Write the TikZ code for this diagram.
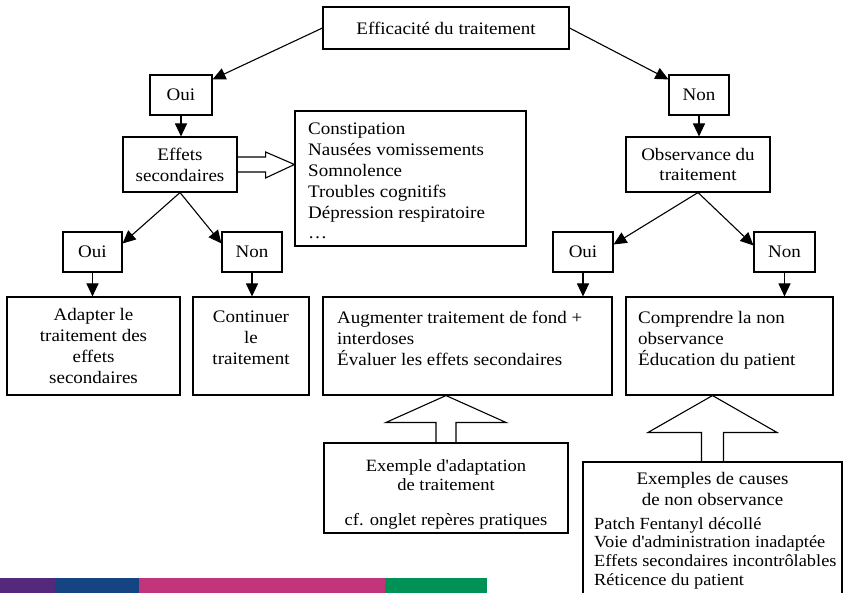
\documentclass[tikz,border=0pt]{standalone}
\usepackage{fontspec}
\setmainfont{Liberation Serif}[FakeStretch=1.08]
\usepackage{tikz}
\usetikzlibrary{arrows.meta}
\usetikzlibrary{calc}
\definecolor{barpurple}{HTML}{54287B}
\definecolor{barblue}{HTML}{154483}
\definecolor{barpink}{HTML}{C2357A}
\definecolor{bargreen}{HTML}{009157}
\tikzstyle{box}=[draw,line width=1.1pt,inner sep=0pt,align=center]
\tikzstyle{txt}=[inner sep=0pt,align=left,anchor=north west]
\tikzstyle{ctxt}=[inner sep=0pt,align=center,anchor=north]
\tikzstyle{edge} = [draw,line width=1.1pt,-{Triangle[length=13pt,width=12pt]}]
\tikzstyle{bigarrow} = [draw,line width=1.1pt,line join=miter]

\begin{document}
\begin{tikzpicture}[x=1pt,y=-1pt,font=\fontsize{17.6}{20.8}\selectfont]

    \clip (0,0) rectangle (845,593);
    \useasboundingbox (0,0) rectangle (845,593);

    % First we draw the boxes
    \foreach \pos/\name/\w/\h/\label in {{(446,28)/eff/246/42/Efficacité du traitement},
        {(181,95)/oui1/62/40/Oui}, {(699,95)/non1/60/40/Non},
        {(180,164.5)/effets/114/55/{Effets\\secondaires}}, {(698,164.5)/obs/144/55/{Observance du\\traitement}},
        {(410.5,178.5)/list/231/135/{}},
        {(92.5,252)/oui2/59/40/Oui}, {(252,252)/non2/60/40/Non}, {(583,252)/oui3/60/40/Oui}, {(784.5,252)/non3/61/40/Non},
        {(93.5,346)/adapt/173/98/{Adapter le\\traitement des\\effets\\secondaires}}, {(251,346)/cont/116/98/{}},
        {(467.5,346)/aug/289/98/{}}, {(729.5,346)/comp/207/98/{}},
        {(446,488)/ex/244/90/{}}, {(712.5,541)/causes/259/158/{}}}
        \node[box,minimum width=\w pt,minimum height=\h pt] (\name) at \pos {\label};

    % Texts inside the boxes
    \node[txt] (listtxt) at (308,123) {Constipation\\Nausées vomissements\\Somnolence\\Troubles cognitifs\\Dépression respiratoire\\\ldots};
    \node[ctxt] (conttxt) at (251,311) {Continuer\\le\\traitement};
    \node[txt] (augtxt) at (337,311) {Augmenter traitement de fond +\\interdoses\\Évaluer les effets secondaires};
    \node[txt] (comptxt) at (638,311) {Comprendre la non\\observance\\Éducation du patient};
    \node[ctxt,font=\fontsize{17.2}{19}\selectfont] (extxt) at (446,459) {Exemple d\textquotesingle adaptation\\de traitement\\[16pt]cf. onglet repères pratiques};
    \node[ctxt] (causestitle) at (712.5,472) {Exemples de causes\\de non observance};
    \node[txt,font=\fontsize{17}{18.7}\selectfont] (causestxt) at (594,517) {Patch Fentanyl décollé\\Voie d\textquotesingle administration inadaptée\\Effets secondaires incontrôlables\\Réticence du patient};

    % Connect boxes with edges
    \foreach \source/\dest/\dy in {eff.west/oui1.north east/-5, eff.east/non1.north west/-5,
        effets.south/oui2.north east/-12, effets.south/non2.north west/-12,
        obs.south/oui3.north east/-13, obs.south/non3.north west/-14}
        \path[edge] (\source) -- ([yshift=\dy pt]\dest);
    \foreach \source/\dest in {oui1/effets, non1/obs, oui2/adapt, non2/cont, oui3/aug, non3/comp}
        \path[edge] (\source.south) -- (\source.south |- \dest.north);

    % Hollow arrows
    \draw[bigarrow] ([yshift=7.5pt]effets.east) -- ++(28,0) -- ++(0,-5) -- (list.west |- effets.east)
        -- ([xshift=28pt,yshift=-13.5pt]effets.east) -- ++(0,-6) -- ([yshift=-7.5pt]effets.east);
    \draw[bigarrow] ([xshift=-10pt]ex.north) -- ++(0,-20) -- ++(-50,0) -- (ex.north |- aug.south)
        -- ([xshift=60pt,yshift=20pt]ex.north) -- ++(-50,0) -- ([xshift=10pt]ex.north);
    \draw[bigarrow] ([xshift=-11pt]causes.north) -- ++(0,-29) -- ++(-53.5,0) -- (causes.north |- comp.south)
        -- ([xshift=64.5pt,yshift=29pt]causes.north) -- ++(-53.5,0) -- ([xshift=11pt]causes.north);

    % Colour bar
    \fill[barpurple] (0,578) rectangle (55,593);
    \fill[barblue] (55,578) rectangle (139,593);
    \fill[barpink] (139,578) rectangle (385,593);
    \fill[bargreen] (385,578) rectangle (487,593);

\end{tikzpicture}
\end{document}
